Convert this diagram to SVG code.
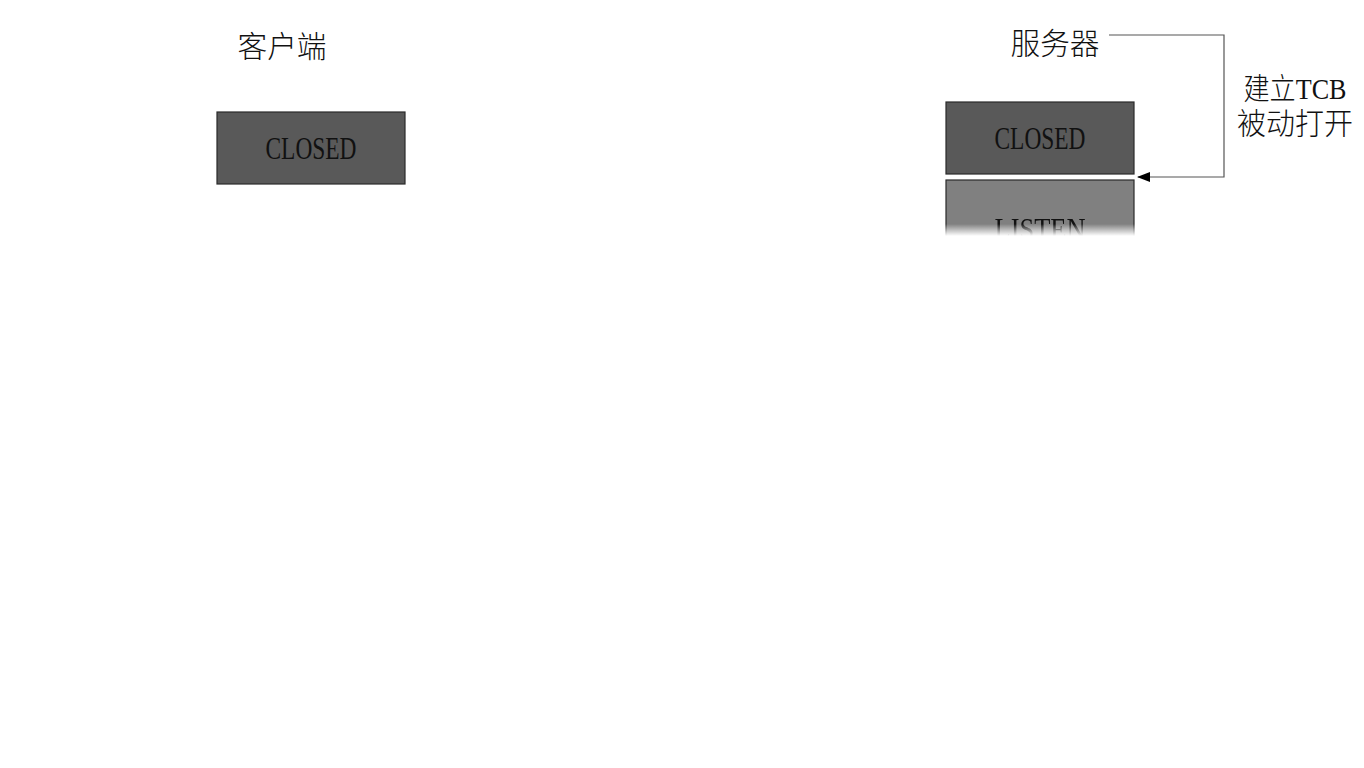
<svg xmlns="http://www.w3.org/2000/svg" width="1364" height="768" viewBox="0 0 1364 768">
<style>
.lbl{font-family:"Liberation Serif","Noto Sans CJK SC",serif;font-size:30px;fill:#111;font-weight:300}
.st{stroke:#2a2a2a;stroke-width:1.2}
.closed{fill:#595959}
.listen{fill:#808080}
.stt{font-family:"Liberation Serif",serif;font-size:32px;fill:#111;text-anchor:middle}
.conn{fill:none;stroke:#555;stroke-width:1.2}
</style>
<defs>
<marker id="arr" markerWidth="13" markerHeight="10" refX="12" refY="5" orient="auto" markerUnits="userSpaceOnUse">
<path d="M0,0 L13,5 L0,10 Z" fill="#000"/>
</marker>
<linearGradient id="fade" x1="0" y1="0" x2="0" y2="1">
<stop offset="0" stop-color="#fff"/>
<stop offset="1" stop-color="#000"/>
</linearGradient>
<mask id="wipe" maskUnits="userSpaceOnUse" x="0" y="0" width="1364" height="768">
<rect x="0" y="0" width="1364" height="224" fill="#fff"/>
<rect x="0" y="224" width="1364" height="12" fill="url(#fade)"/>
</mask>
</defs>
<rect width="1364" height="768" fill="#fff"/>
<g id="client-label"><text class="lbl" x="282" y="57" text-anchor="middle" textLength="89" lengthAdjust="spacingAndGlyphs">客户端</text></g>
<g id="server-label"><text class="lbl" x="1055" y="54" text-anchor="middle" textLength="89" lengthAdjust="spacingAndGlyphs">服务器</text></g>
<g id="client-closed">
<rect class="closed st" x="217" y="112" width="188" height="72"/>
<text class="stt" x="311" y="159" textLength="91" lengthAdjust="spacingAndGlyphs">CLOSED</text>
</g>
<g id="server-closed">
<rect class="closed st" x="946" y="102" width="188" height="72"/>
<text class="stt" x="1040" y="149" textLength="91" lengthAdjust="spacingAndGlyphs">CLOSED</text>
</g>
<g id="server-listen" mask="url(#wipe)">
<rect class="listen st" x="946" y="180" width="188" height="72"/>
<text class="stt" x="1040" y="240" textLength="91" lengthAdjust="spacingAndGlyphs">LISTEN</text>
</g>
<g id="connectors">
<path class="conn" d="M1109,35 H1224 V177 H1138" marker-end="url(#arr)"/>
</g>
<g id="connector-label">
<text class="lbl" x="1295" y="99" text-anchor="middle" textLength="103" lengthAdjust="spacingAndGlyphs">建立TCB</text>
<text class="lbl" x="1295" y="134" text-anchor="middle" textLength="116" lengthAdjust="spacingAndGlyphs">被动打开</text>
</g>
</svg>
